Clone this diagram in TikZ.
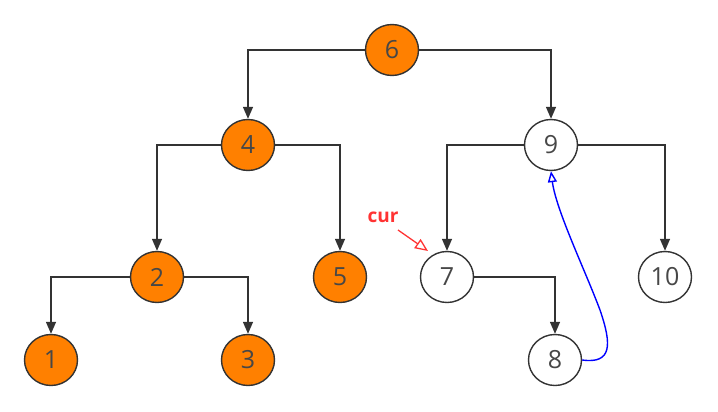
\documentclass[tikz,border=0pt]{standalone}
\usepackage{fontspec}
\setmainfont{Open Sans}
\usetikzlibrary{arrows.meta,shapes.geometric}
\definecolor{nodeorange}{HTML}{FF8000}
\definecolor{linegray}{HTML}{333333}
\definecolor{curred}{HTML}{FF3333}
\tikzset{
  treenode/.style={ellipse,draw=linegray,line width=1.4pt,minimum width=53pt,minimum height=51pt,inner sep=0pt,font=\fontsize{25}{25}\selectfont,text=linegray!90},
  hot/.style={treenode,fill=nodeorange},
  cold/.style={treenode,fill=white},
  link/.style={draw=linegray,line width=1.4pt,-{Triangle[length=12pt,width=10pt]}},
  thread/.style={draw=blue,line width=1.4pt,-{Triangle[open,length=11pt,width=9pt]}},
  pointer/.style={draw=curred,line width=1.3pt,-{Triangle[open,length=13pt,width=11pt]}}
}
\begin{document}
\begin{tikzpicture}[x=1pt,y=-1pt]
\useasboundingbox (0,0) rectangle (718,412);
% nodes
\node[hot]  (n6)  at (392,50)  {6};
\node[hot]  (n4)  at (248,145) {4};
\node[cold] (n9)  at (551,145) {9};
\node[hot]  (n2)  at (157,277) {2};
\node[hot]  (n5)  at (340,277) {5};
\node[cold] (n7)  at (447,277) {7};
\node[cold] (n10) at (665,277) {10};
\node[hot]  (n1)  at (51,360)  {1};
\node[hot]  (n3)  at (248,360) {3};
\node[cold] (n8)  at (555,360) {8};
% tree edges
\draw[link] (n6.west) -| (n4.north);
\draw[link] (n6.east) -| (n9.north);
\draw[link] (n4.west) -| (n2.north);
\draw[link] (n4.east) -| (n5.north);
\draw[link] (n9.west) -| (n7.north);
\draw[link] (n9.east) -| (n10.north);
\draw[link] (n2.west) -| (n1.north);
\draw[link] (n2.east) -| (n3.north);
\draw[link] (n7.east) -| (n8.north);
% threaded link from 8 back to 9
\draw[thread] (n8.east) .. controls (612,364) and (612,345) .. (600,310)
  .. controls (585,270) and (556,210) .. (n9.south);
% cur pointer
\node[text=curred,font=\bfseries\fontsize{19}{19}\selectfont] (cur) at (383,217) {cur};
\coordinate (curtip) at (428,251);
\draw[pointer] (398,230) -- (curtip);
\end{tikzpicture}
\end{document}
